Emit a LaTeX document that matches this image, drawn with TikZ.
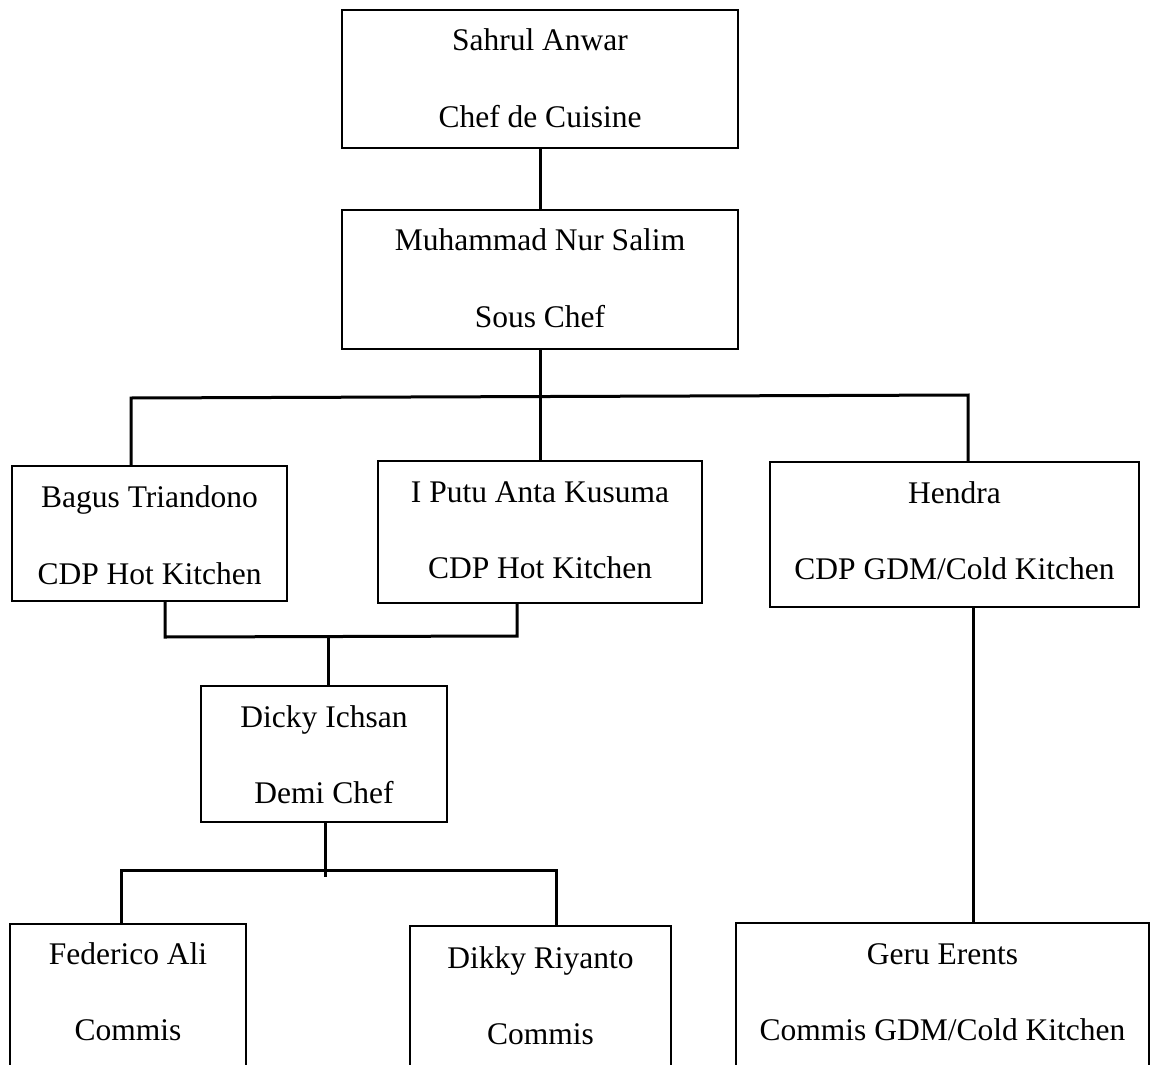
\documentclass[tikz,border=0pt]{standalone}
\usepackage{fontspec}
\setmainfont{Liberation Serif}
\begin{document}
\begin{tikzpicture}[x=1pt,y=-1pt,
  box/.style={draw=black,line width=2pt,rectangle,inner sep=0pt,fill=none},
  txt/.style={anchor=base,inner sep=0pt,font=\fontsize{31.5}{36}\selectfont},
  conn/.style={line width=3pt,line cap=rect}]
\path[use as bounding box,clip] (0,0) rectangle (1152,1065);
% boxes
\node[box,minimum width=396pt,minimum height=138pt] (sa) at (540,79) {};
\node[box,minimum width=396pt,minimum height=139pt] (ms) at (540,279.5) {};
\node[box,minimum width=275pt,minimum height=135pt] (bt) at (149.5,533.5) {};
\node[box,minimum width=324pt,minimum height=142pt] (ip) at (540,532) {};
\node[box,minimum width=369pt,minimum height=145pt] (he) at (954.5,534.5) {};
\node[box,minimum width=246pt,minimum height=136pt] (di) at (324,754) {};
\node[box,minimum width=236pt,minimum height=156pt] (fa) at (128,1002) {};
\node[box,minimum width=261pt,minimum height=154pt] (dr) at (540.5,1003) {};
\node[box,minimum width=413pt,minimum height=157pt] (ge) at (942.5,1001.5) {};
% texts
\node[txt] (t1a) at (540,51) {Sahrul Anwar};
\node[txt] (t1b) at (540,127) {Chef de Cuisine};
\node[txt] (t2a) at (540,250) {Muhammad Nur Salim};
\node[txt] (t2b) at (540,327) {Sous Chef};
\node[txt] (t3a) at (149.5,507) {Bagus Triandono};
\node[txt] (t3b) at (149.5,584) {CDP Hot Kitchen};
\node[txt] (t4a) at (540,502) {I Putu Anta Kusuma};
\node[txt] (t4b) at (540,578) {CDP Hot Kitchen};
\node[txt] (t5a) at (954.5,503) {Hendra};
\node[txt] (t5b) at (954.5,579) {CDP GDM/Cold Kitchen};
\node[txt] (t6a) at (324,727) {Dicky Ichsan};
\node[txt] (t6b) at (324,803) {Demi Chef};
\node[txt] (t7a) at (128,964) {Federico Ali};
\node[txt] (t7b) at (128,1040) {Commis};
\node[txt] (t8a) at (540.5,968) {Dikky Riyanto};
\node[txt] (t8b) at (540.5,1044) {Commis};
\node[txt] (t9a) at (942.5,964) {Geru Erents};
\node[txt] (t9b) at (942.5,1040) {Commis GDM/Cold Kitchen};
% junction coordinates
\coordinate (j1l) at (131,398);
\coordinate (j1r) at (968,395);
\coordinate (j1m) at (540,397);
\coordinate (j2l) at (165,637);
\coordinate (j2r) at (517,636);
\coordinate (j2m) at (328,637);
\coordinate (j3l) at (121,870);
\coordinate (j3r) at (556,870);
\coordinate (j3m) at (325,870);
\coordinate (j3e) at (325,875);
% connectors
\draw[conn] (sa.south) -- (ms.north);
\draw[conn] (ms.south) -- (ip.north);
\draw[conn] (j1l |- bt.north) -- (j1l) -- (j1r) -- (j1r |- he.north);
\draw[conn] (j2l |- bt.south) -- (j2l) -- (j2r) -- (j2r |- ip.south);
\draw[conn] (j2m) -- (j2m |- di.north);
\draw[conn] (di.south -| j3m) -- (j3e);
\draw[conn] (j3l |- fa.north) -- (j3l) -- (j3r) -- (j3r |- dr.north);
\draw[conn] (973,607) coordinate (hs) -- (hs |- ge.north);
\end{tikzpicture}
\end{document}
